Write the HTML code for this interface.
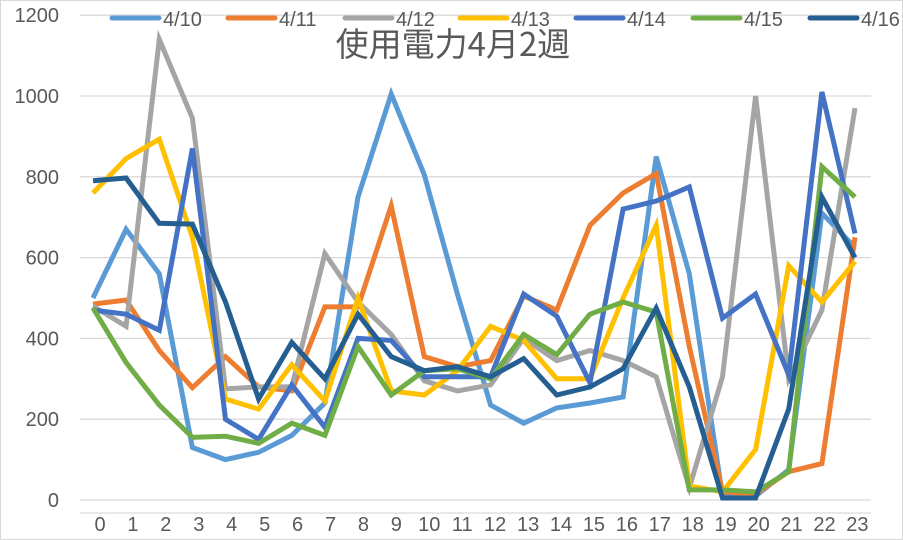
<!DOCTYPE html>
<html><head><meta charset="utf-8"><style>
html,body{margin:0;padding:0;background:#fff;}
svg{display:block;font-family:"Liberation Sans","Noto Sans CJK JP",sans-serif;}
</style></head><body>
<svg id="c" width="903" height="540" viewBox="0 0 903 540" xmlns="http://www.w3.org/2000/svg">
<rect x="0.5" y="0.5" width="902" height="539" fill="#fff" stroke="#d9d9d9"/>
<g id="grid" stroke="#d9d9d9" stroke-width="1.3"></g>
<g id="ylab" fill="#595959" font-size="20" text-anchor="end"></g>
<g id="xlab" fill="#595959" font-size="20" text-anchor="middle"></g>
<g id="series" fill="none" stroke-width="5" stroke-linejoin="miter"></g>
<text x="453" y="56" font-size="33" fill="#595959" text-anchor="middle" font-family="'Noto Sans CJK JP',sans-serif">使用電力4月2週</text>
<g id="legend" font-size="20" fill="#595959"></g>
</svg>
<script>
var NS="http://www.w3.org/2000/svg";
function el(t,a,p,txt){var e=document.createElementNS(NS,t);for(var k in a)e.setAttribute(k,a[k]);if(txt!=null)e.textContent=txt;document.getElementById(p).appendChild(e);return e;}
function Y(v){return 500-v*0.404;}
function X(i){return 93+33.13*i;}
for(var v=0;v<=1200;v+=200){el('line',{x1:80,x2:871,y1:Y(v),y2:Y(v)},'grid');el('text',{x:59,y:Y(v)+7},'ylab',String(v));}
el('line',{x1:80,x2:871,y1:513,y2:513},'grid');
for(var i=0;i<24;i++)el('text',{x:X(i)+7-0.2*i,y:531},'xlab',String(i));
var S=[
["4/10","#5B9BD5",[500,670,560,130,100,118,160,240,750,1005,805,510,235,190,228,240,255,850,560,10,10,75,710,625]],
["4/11","#ED7D31",[485,495,370,278,355,280,270,478,478,728,355,330,345,505,470,680,760,808,380,20,15,70,90,650]],
["4/12","#A5A5A5",[480,430,1140,945,275,280,280,610,490,410,295,270,285,400,345,370,345,305,30,305,1000,300,470,970]],
["4/13","#FFC000",[760,845,893,650,250,225,335,245,500,270,260,320,430,395,300,300,500,680,35,20,125,580,490,590]],
["4/14","#4472C4",[470,460,420,870,200,150,285,180,400,395,305,305,305,510,455,290,720,740,775,450,510,310,1010,660]],
["4/15","#70AD47",[475,340,235,155,158,140,190,160,380,260,320,325,300,410,360,460,490,465,25,25,20,70,825,750]],
["4/16","#255E91",[790,797,685,683,490,250,390,300,460,355,320,330,305,350,260,280,325,475,280,5,5,225,750,600]]
];
var lx=[112,228,345,460,576,693,810];
S.forEach(function(s,k){
 var pts=s[2].map(function(v,i){return X(i).toFixed(1)+","+Y(v).toFixed(1);}).join(" ");
 el('polyline',{points:pts,stroke:s[1]},'series');
 el('line',{x1:lx[k],x2:lx[k]+47,y1:18,y2:18,stroke:s[1],'stroke-width':5,'stroke-linecap':'round'},'legend');
 el('text',{x:lx[k]+51,y:26},'legend',s[0]);
});
</script>
</body></html>
